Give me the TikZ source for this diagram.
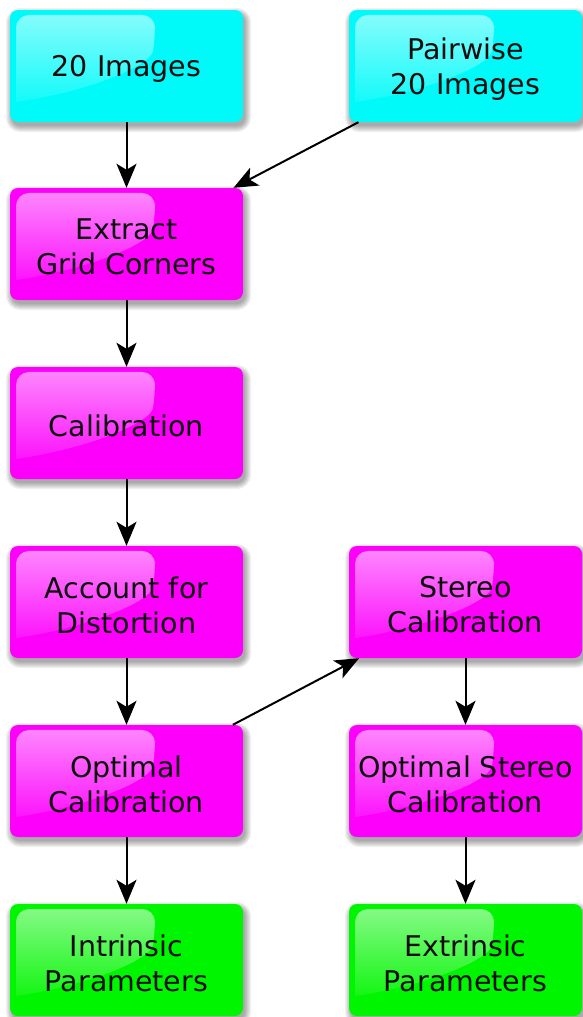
\documentclass[tikz,border=0pt]{standalone}
\usepackage{fontspec}
\setmainfont{DejaVu Sans}
\usetikzlibrary{arrows.meta,fadings}

\definecolor{inputcol}{RGB}{0,250,250}
\definecolor{stepcol}{RGB}{252,0,252}
\definecolor{outcol}{RGB}{0,245,0}
\definecolor{txt}{RGB}{12,12,12}

\tikzfading[name=glossfade, top color=transparent!48, bottom color=transparent!92]

\tikzset{
  flowbox/.style={rectangle, rounded corners=8pt, minimum width=233pt, minimum height=112pt,
    inner sep=0pt, align=center, text=txt, font=\fontsize{28.5}{35}\selectfont},
  flowarrow/.style={line width=2pt, -{Stealth[length=24pt, width=20pt, inset=6pt]}}
}

% soft drop shadow, box, and glossy highlight in the upper left
\newcommand{\glossbox}[5]{%
  \foreach \e in {0,1,...,6}{
    \fill[black, opacity=0.055, rounded corners={8pt+\e pt}]
      ({#2-116.5+2-\e}, {#3-56+4-\e}) rectangle ({#2+116.5+2+\e}, {#3+56+4+\e});
  }
  \node[flowbox, fill=#4] (#1) at (#2,#3) {};
  \fill[white, path fading=glossfade, rounded corners=13pt]
    ({#2-110.5}, {#3+36}) -- ({#2-110.5}, {#3-51}) -- ({#2+28.5}, {#3-51})
    -- ({#2+28.5}, {#3-28})
    {[sharp corners] .. controls ({#2+24}, {#3}) and ({#2-40}, {#3+26}) .. ({#2-110.5}, {#3+36})} -- cycle;
  \node[flowbox] at (#2,{#3+3}) {#5};
}

\begin{document}
\begin{tikzpicture}[x=1pt, y=-1pt]
\useasboundingbox (0,0) rectangle (582,1017);

\glossbox{img}{126.5}{66}{inputcol}{20 Images}
\glossbox{pair}{465.5}{66}{inputcol}{Pairwise\\20 Images}
\glossbox{grid}{126.5}{244}{stepcol}{Extract\\Grid Corners}
\glossbox{calib}{126.5}{423}{stepcol}{Calibration}
\glossbox{dist}{126.5}{602}{stepcol}{Account for\\Distortion}
\glossbox{stereo}{465.5}{602}{stepcol}{Stereo\\Calibration}
\glossbox{opt}{126.5}{781}{stepcol}{Optimal\\Calibration}
\glossbox{optst}{465.5}{781}{stepcol}{Optimal Stereo\\Calibration}
\glossbox{intr}{126.5}{960}{outcol}{Intrinsic\\Parameters}
\glossbox{extr}{465.5}{960}{outcol}{Extrinsic\\Parameters}

\draw[flowarrow] (img) -- (grid);
\draw[flowarrow] (pair) -- (grid);
\draw[flowarrow] (grid) -- (calib);
\draw[flowarrow] (calib) -- (dist);
\draw[flowarrow] (dist) -- (opt);
\draw[flowarrow] (opt) -- (stereo);
\draw[flowarrow] (stereo) -- (optst);
\draw[flowarrow] (opt) -- (intr);
\draw[flowarrow] (optst) -- (extr);
\end{tikzpicture}
\end{document}
